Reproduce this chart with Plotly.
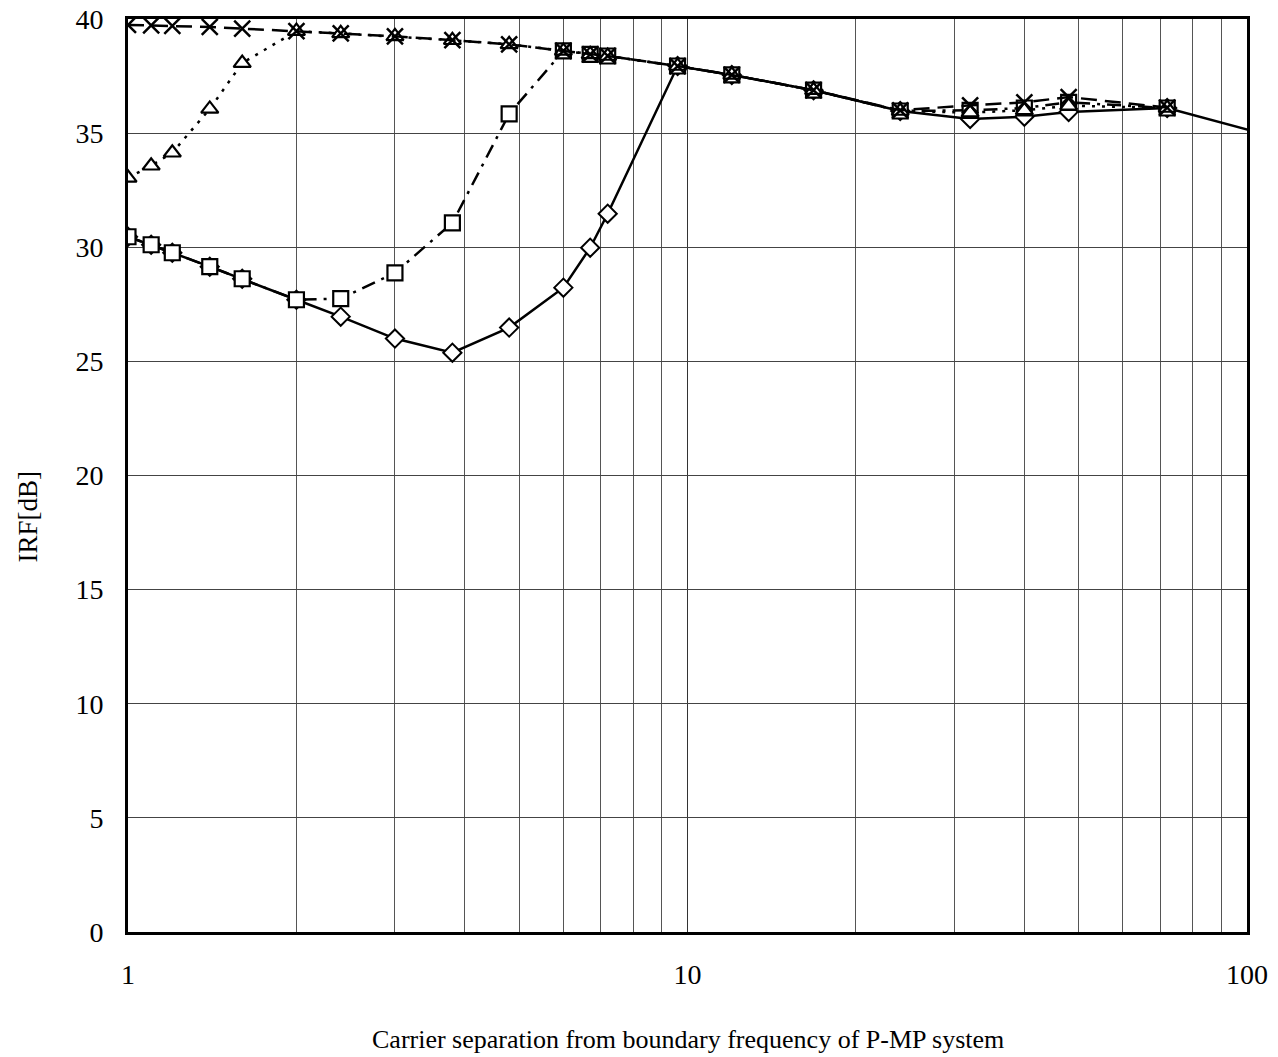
import plotly.graph_objects as go

# Carrier separation values (x)
x_vals = [1, 1.1, 1.2, 1.4, 1.6, 2, 2.4, 3, 3.8, 4.8, 6, 6.7, 7.2, 9.6, 12, 16.8, 24, 32, 40, 48, 72]
x_solid = x_vals + [104]

# IRF values per series
irf_diamond = [30.46, 30.11, 29.76, 29.15, 28.62, 27.70, 26.96, 26.00, 25.38, 26.48, 28.23, 29.98, 31.47,
               37.94, 37.55, 36.88, 35.97, 35.62, 35.72, 35.93, 36.10, 35.05]
irf_square = [30.46, 30.11, 29.76, 29.15, 28.62, 27.70, 27.75, 28.88, 31.07, 35.84, 38.60, 38.45, 38.38,
              37.94, 37.55, 36.88, 35.97, 36.00, 36.10, 36.35, 36.10]
irf_triangle = [33.04, 33.57, 34.14, 36.06, 38.07, 39.47, 39.37, 39.24, 39.07, 38.89, 38.60, 38.45, 38.38,
                37.94, 37.55, 36.88, 35.97, 35.90, 36.00, 36.20, 36.10]
irf_cross = [39.74, 39.72, 39.70, 39.65, 39.58, 39.47, 39.37, 39.24, 39.07, 38.89, 38.60, 38.45, 38.38,
             37.94, 37.55, 36.88, 36.00, 36.22, 36.35, 36.58, 36.12]

y_ticks = [0, 5, 10, 15, 20, 25, 30, 35, 40]
x_ticks = [1, 10, 100]
x_tick_text = ["1", "10", "100"]
x_minor = [2, 3, 4, 5, 6, 7, 8, 9, 20, 30, 40, 50, 60, 70, 80, 90]

FONT = "Liberation Serif"

fig = go.Figure()

msz_solid = [14] * len(x_vals) + [0]
fig.add_trace(go.Scatter(
    x=x_solid, y=irf_diamond, mode="lines+markers",
    line=dict(color="black", width=2.5),
    marker=dict(symbol="diamond", size=msz_solid, color="white", opacity=1,
                line=dict(color="black", width=2)),
    showlegend=False))
fig.add_trace(go.Scatter(
    x=x_vals, y=irf_square, mode="lines+markers",
    line=dict(color="black", width=2.5, dash="14px,7px,3px,7px"),
    marker=dict(symbol="square", size=15, color="white", line=dict(color="black", width=2.2)),
    showlegend=False))
fig.add_trace(go.Scatter(
    x=x_vals, y=irf_triangle, mode="lines+markers",
    line=dict(color="black", width=2.5, dash="3px,7px"),
    marker=dict(symbol="triangle-up", size=15, color="white", line=dict(color="black", width=2.2)),
    showlegend=False))
fig.add_trace(go.Scatter(
    x=x_vals, y=irf_cross, mode="lines+markers",
    line=dict(color="black", width=2.5, dash="16px,8px"),
    marker=dict(symbol="x-thin-open", size=16, color="black", line=dict(color="black", width=2.5)),
    showlegend=False))

fig.update_layout(
    width=1278, height=1057,
    margin=dict(l=128, r=31, t=19, b=125, autoexpand=False),
    paper_bgcolor="white", plot_bgcolor="white",
    font=dict(family=FONT, color="black", size=28),
    xaxis=dict(
        type="log", range=[0, 2],
        tickvals=x_ticks, ticktext=x_tick_text,
        showgrid=True, gridcolor="#333", gridwidth=1,
        minor=dict(tickvals=x_minor, showgrid=True, gridcolor="#555", gridwidth=1, ticks=""),
        showline=True, linecolor="black", linewidth=3, mirror=True,
        ticks="", ticklabelstandoff=15, ticklabeloverflow="allow",
        tickfont=dict(family=FONT, size=28),
        zeroline=False,
    ),
    yaxis=dict(
        range=[0, 40], tickvals=y_ticks,
        showgrid=True, gridcolor="#444", gridwidth=1,
        showline=True, linecolor="black", linewidth=3, mirror=True,
        ticks="", ticklabelstandoff=16, ticklabeloverflow="allow",
        tickfont=dict(family=FONT, size=28),
        zeroline=False,
    ),
    annotations=[
        dict(text="Carrier separation from boundary frequency of P-MP system",
             x=0.5, y=-0.118, xref="paper", yref="paper", showarrow=False,
             xanchor="center", yanchor="middle", font=dict(family=FONT, size=26)),
        dict(text="IRF[dB]", x=-0.0894, y=0.455, xref="paper", yref="paper", showarrow=False,
             textangle=-90, xanchor="center", yanchor="middle", font=dict(family=FONT, size=27)),
    ],
)

fig.write_html("out.html", config={"displayModeBar": False},
               post_script="document.body.style.margin='0';")
